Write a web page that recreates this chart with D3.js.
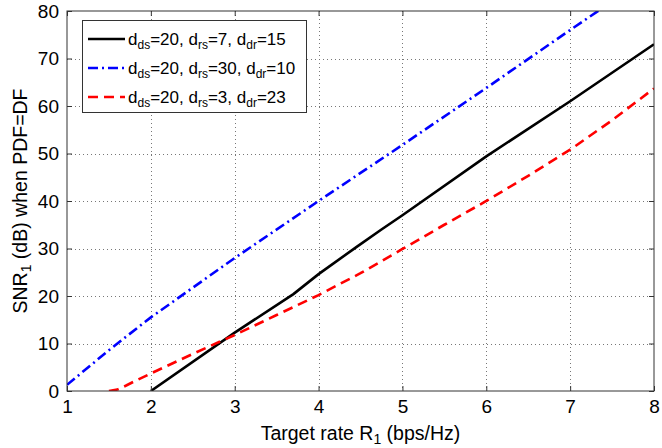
<!DOCTYPE html>
<html lang="en">
  <head>
    <meta charset="utf-8">
    <title>SNR vs target rate</title>
    <style>
      body { margin: 0; background: #fff; }
    </style>
  </head>
  <body>
    <svg id="canvas"></svg>
    <script src="https://cdn.jsdelivr.net/npm/d3@7/dist/d3.min.js"></script>
    <script>

      const width = 662;
      const height = 448;
      const margin = { top: 11, right: 8, bottom: 57, left: 67 };

      // data
      const xTicks = [1, 2, 3, 4, 5, 6, 7, 8];
      const yTicks = [0, 10, 20, 30, 40, 50, 60, 70, 80];

      const blackR = [2, 3, 3.7, 4, 4.45, 4.75, 5, 6, 7, 8];
      const blackSnr = [0, 12.3, 20.4, 24.6, 30.3, 34, 37, 49.4, 61, 73];

      const blueR = [1, 1.5, 2, 3, 4, 5, 6, 7, 7.5];
      const blueSnr = [1.3, 8.6, 15.5, 28, 40, 51.8, 63.8, 76, 82];

      const redR = [1.5, 1.6, 1.7, 1.8, 2, 2.5, 3, 3.5, 4, 4.5, 5, 5.5, 6, 6.5, 7, 7.5, 8];
      const redSnr = [0, 0.3, 1.1, 2, 3.7, 7.8, 11.8, 16, 20.2, 24.8, 29.9, 35, 40, 45.3, 50.8, 57, 63.7];

      const series = [
        { r: blackR, snr: blackSnr, color: "#000000", dash: null, label: ["=20, d", "=7, d", "=15"] },
        { r: blueR, snr: blueSnr, color: "#0000ff", dash: "10,4,2,4", label: ["=20, d", "=30, d", "=10"] },
        { r: redR, snr: redSnr, color: "#ff0000", dash: "10,6", label: ["=20, d", "=3, d", "=23"] }
      ];
      const subs = ["ds", "rs", "dr"];

      const fontFamily = "'Liberation Sans', Arial, sans-serif";

      const svg = d3.select("#canvas")
        .attr("width", width)
        .attr("height", height)
        .attr("font-family", fontFamily);

      const x = d3.scaleLinear().domain([1, 8]).range([margin.left, width - margin.right]);
      const y = d3.scaleLinear().domain([0, 80]).range([height - margin.bottom, margin.top]);

      // dotted grid
      const grid = svg.append("g")
        .attr("stroke", "#777")
        .attr("stroke-width", 1)
        .attr("stroke-dasharray", "1,3");
      grid.selectAll(".gx").data(xTicks.slice(1, -1)).join("line")
        .attr("x1", d => Math.round(x(d)) + 0.5).attr("x2", d => Math.round(x(d)) + 0.5)
        .attr("y1", y(80)).attr("y2", y(0));
      grid.selectAll(".gy").data(yTicks.slice(1, -1)).join("line")
        .attr("y1", d => Math.round(y(d)) + 0.5).attr("y2", d => Math.round(y(d)) + 0.5)
        .attr("x1", x(1)).attr("x2", x(8));

      // curves, clipped to the plot box
      svg.append("clipPath").attr("id", "plot")
        .append("rect")
        .attr("x", x(1)).attr("y", y(80))
        .attr("width", x(8) - x(1)).attr("height", y(0) - y(80));

      const line = d3.line()
        .x(d => x(d[0]))
        .y(d => y(d[1]));

      svg.append("g").attr("clip-path", "url(#plot)")
        .selectAll("path").data(series).join("path")
        .attr("d", s => line(s.r.map((r, i) => [r, s.snr[i]])))
        .attr("fill", "none")
        .attr("stroke", s => s.color)
        .attr("stroke-width", 2.6)
        .attr("stroke-dasharray", s => s.dash);

      // axes, ticks inward on all sides
      const tickLen = 5;
      const fmt = d3.format("d");
      svg.append("g")
        .attr("transform", `translate(0,${y(0)})`)
        .call(d3.axisBottom(x).tickValues(xTicks).tickFormat(fmt).tickSize(-tickLen).tickPadding(9))
        .call(g => g.select(".domain").remove());
      svg.append("g")
        .attr("transform", `translate(0,${y(80)})`)
        .call(d3.axisTop(x).tickValues(xTicks).tickSize(-tickLen).tickFormat(""))
        .call(g => g.select(".domain").remove());
      svg.append("g")
        .attr("transform", `translate(${x(1)},0)`)
        .call(d3.axisLeft(y).tickValues(yTicks).tickFormat(fmt).tickSize(-tickLen).tickPadding(8))
        .call(g => g.select(".domain").remove());
      svg.append("g")
        .attr("transform", `translate(${x(8)},0)`)
        .call(d3.axisRight(y).tickValues(yTicks).tickSize(-tickLen).tickFormat(""))
        .call(g => g.select(".domain").remove());

      svg.selectAll(".tick text")
        .attr("font-family", fontFamily)
        .attr("font-size", 19)
        .attr("fill", "#000");
      svg.selectAll(".tick line").attr("stroke", "#333");

      // plot frame
      svg.append("rect")
        .attr("x", x(1)).attr("y", y(80))
        .attr("width", x(8) - x(1)).attr("height", y(0) - y(80))
        .attr("fill", "none")
        .attr("stroke", "#333")
        .attr("stroke-width", 1);

      // axis labels
      const xLabel = svg.append("text")
        .attr("x", (x(1) + x(8)) / 2)
        .attr("y", 440)
        .attr("text-anchor", "middle")
        .attr("font-size", 19.5);
      xLabel.append("tspan").text("Target rate R");
      xLabel.append("tspan").attr("font-size", 14).attr("dy", 4).text("1");
      xLabel.append("tspan").attr("dy", -4).text(" (bps/Hz)");

      const yLabel = svg.append("text")
        .attr("transform", `translate(27,${(y(0) + y(80)) / 2}) rotate(-90)`)
        .attr("text-anchor", "middle")
        .attr("font-size", 19.5);
      yLabel.append("tspan").text("SNR");
      yLabel.append("tspan").attr("font-size", 14).attr("dy", 4).text("1");
      yLabel.append("tspan").attr("dy", -4).text(" (dB) when PDF=DF");

      // legend
      const legend = svg.append("g");
      legend.append("rect")
        .attr("x", 82.5).attr("y", 20.5)
        .attr("width", 224).attr("height", 92)
        .attr("fill", "#fff")
        .attr("stroke", "#333")
        .attr("stroke-width", 1);

      series.forEach((s, i) => {
        const rowY = 39 + i * 29;
        legend.append("line")
          .attr("x1", 88).attr("x2", 125)
          .attr("y1", rowY).attr("y2", rowY)
          .attr("stroke", s.color)
          .attr("stroke-width", 2.6)
          .attr("stroke-dasharray", s.dash);

        const t = legend.append("text")
          .attr("x", 128)
          .attr("y", rowY + 6)
          .attr("font-size", 17);
        t.append("tspan").text("d");
        s.label.forEach((part, k) => {
          t.append("tspan").attr("font-size", 12).attr("dy", 4).text(subs[k]);
          t.append("tspan").attr("dy", -4).text(part);
        });
      });

    </script>
  </body>
</html>
